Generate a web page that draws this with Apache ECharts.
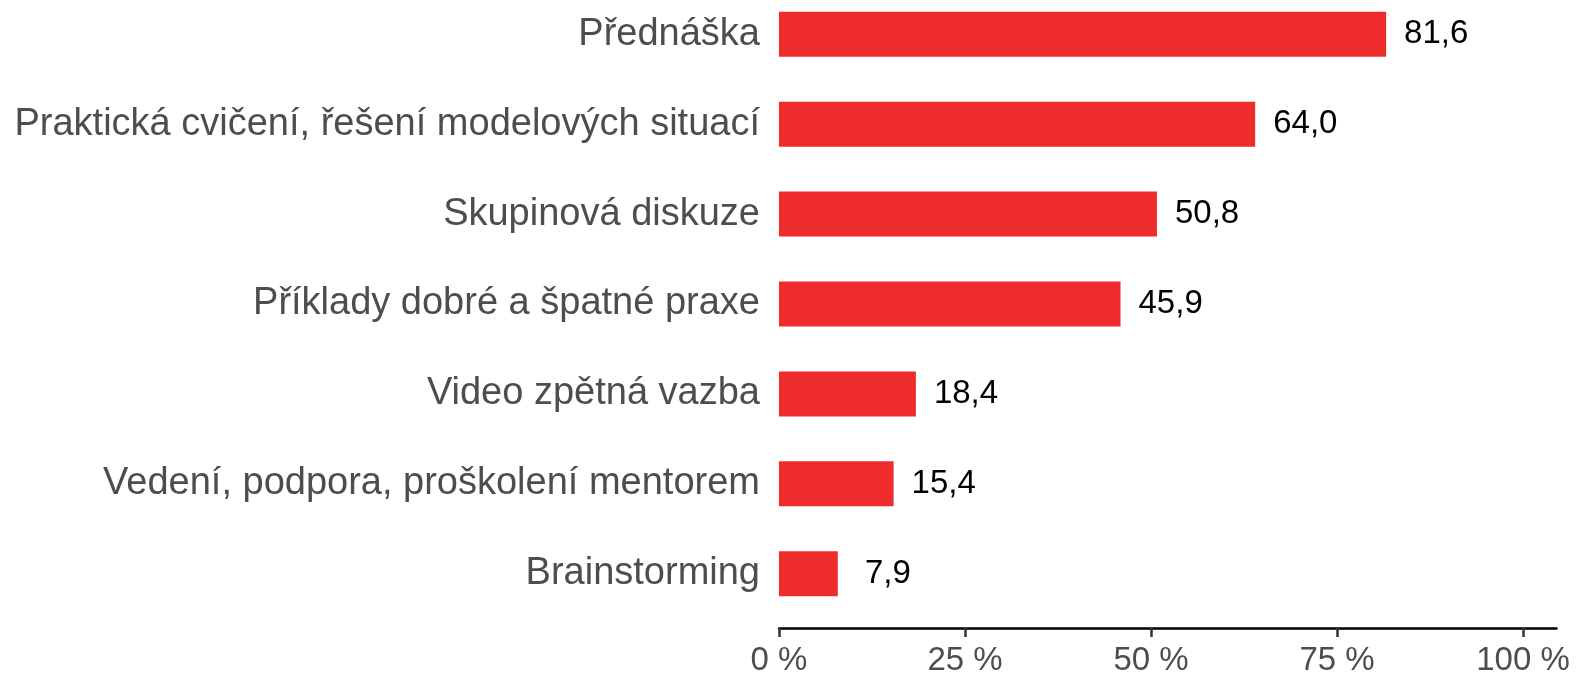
<!DOCTYPE html>
<html>
<head>
<meta charset="utf-8">
<script src="https://cdn.jsdelivr.net/npm/echarts@6/dist/echarts.min.js"></script>
<style>
html,body{margin:0;padding:0;background:#fff;overflow:hidden;}
#wrap{position:relative;width:1576px;height:675px;overflow:hidden;}
#chart{position:absolute;left:0;top:-11px;width:1576px;height:688px;}
</style>
</head>
<body>
<div id="wrap"><div id="chart"></div></div>
<script>
const categories = [
  "Přednáška",
  "Praktická cvičení, řešení modelových situací",
  "Skupinová diskuze",
  "Příklady dobré a špatné praxe",
  "Video zpětná vazba",
  "Vedení, podpora, proškolení mentorem",
  "Brainstorming"
];
const values = [81.6, 64.0, 50.8, 45.9, 18.4, 15.4, 7.9];
const tickValues = [0, 25, 50, 75, 100];

const FONT = '"Liberation Sans", Arial, sans-serif';
const chart = echarts.init(document.getElementById('chart'));
chart.setOption({
  animation: false,
  backgroundColor: '#ffffff',
  grid: { left: 779, right: 19.5, top: 0.3, bottom: 56.3 },
  xAxis: {
    type: 'value',
    min: 0,
    max: 104.5,
    interval: 25,
    offset: 9.3,
    axisLine: { show: true, lineStyle: { color: '#000', width: 2.5 } },
    axisTick: { show: true, customValues: tickValues, length: 9, lineStyle: { color: '#333', width: 2.5 } },
    axisLabel: {
      customValues: tickValues,
      formatter: v => (tickValues.indexOf(v) >= 0 ? v + ' %' : ''),
      fontSize: 33, fontFamily: FONT, color: '#4d4d4d', margin: 16
    },
    splitLine: { show: false }
  },
  yAxis: {
    type: 'category',
    inverse: true,
    data: categories,
    axisLine: { show: false },
    axisTick: { show: false },
    axisLabel: { fontSize: 38, fontFamily: FONT, color: '#4d4d4d', margin: 19 }
  },
  series: [{
    type: 'bar',
    data: values,
    barWidth: '50%',
    itemStyle: { color: '#EE2C2C' },
    label: {
      show: true,
      position: 'right',
      distance: 18,
      fontSize: 33,
      fontFamily: FONT,
      color: '#000',
      formatter: p => (p.value < 10 ? ' ' : '') + p.value.toFixed(1).replace('.', ',')
    }
  }]
});
</script>
</body>
</html>
